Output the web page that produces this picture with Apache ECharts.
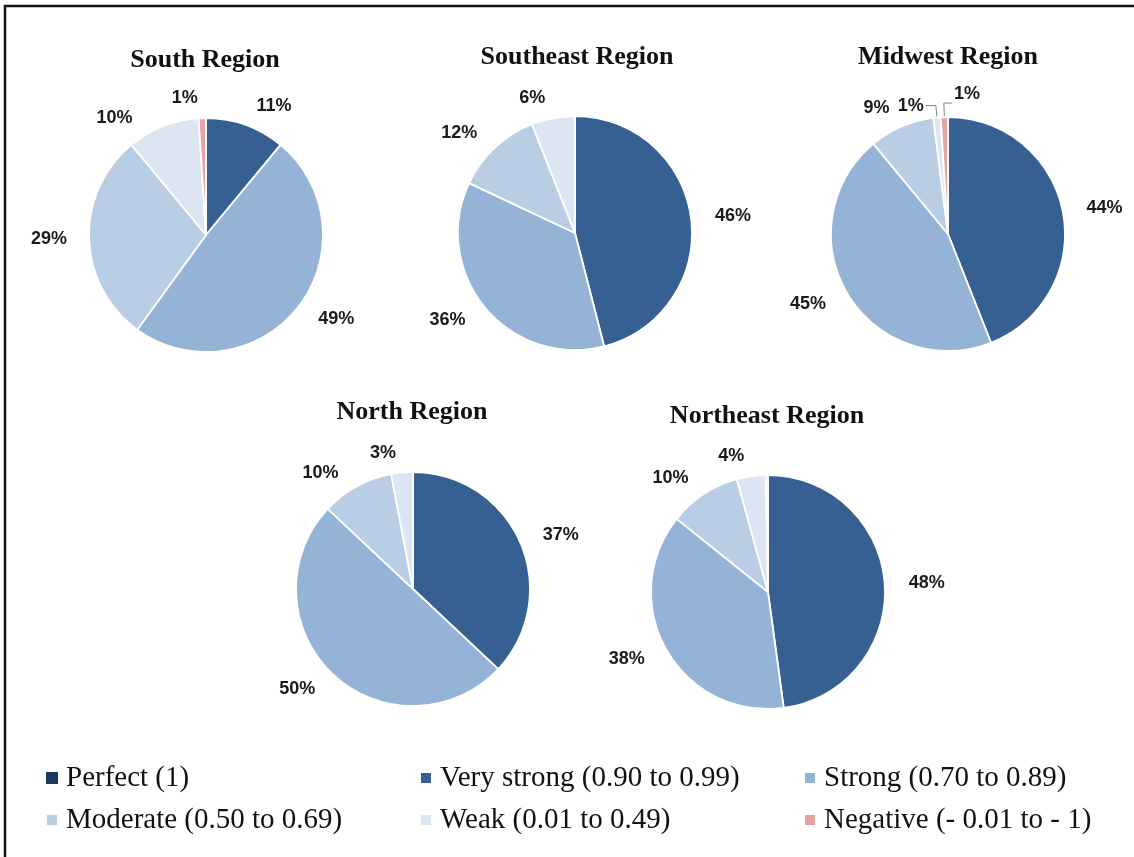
<!DOCTYPE html>
<html>
<head>
<meta charset="utf-8">
<script src="https://cdn.jsdelivr.net/npm/echarts@6/dist/echarts.min.js"></script>
<style>
html,body{margin:0;padding:0;background:#fff;}
#chart{width:1134px;height:857px;}
</style>
</head>
<body>
<div id="chart"></div>
<script>
const categories = ['Perfect (1)', 'Very strong (0.90 to 0.99)', 'Strong (0.70 to 0.89)', 'Moderate (0.50 to 0.69)', 'Weak (0.01 to 0.49)', 'Negative (- 0.01 to - 1)'];
const regionNames = ['South Region', 'Southeast Region', 'Midwest Region', 'North Region', 'Northeast Region'];
const south = [0, 11, 49, 29, 10, 1];
const southeast = [0, 46, 36, 12, 6, 0];
const midwest = [0, 44, 45, 9, 1, 1];
const north = [0, 37, 50, 10, 3, 0];
const northeast = [0, 48, 38, 10, 4, 0.3];
const regionValues = [south, southeast, midwest, north, northeast];

const colors = ['#1F3A60', '#366092', '#95B3D7', '#B9CDE5', '#DCE6F2', '#E6A3A3'];
const centers = [[206, 235], [575, 233], [948, 234], [413, 589], [768, 592]];
const titlePos = [[205, 47], [577, 44], [948, 44], [412, 399], [767, 403]];
const radius = 117;
const leaderRegion = 2;

const chart = echarts.init(document.getElementById('chart'), null, {renderer: 'canvas'});

const series = regionValues.map((vals, ri) => ({
  type: 'pie',
  center: centers[ri],
  radius: radius,
  startAngle: 90,
  clockwise: true,
  silent: true,
  animation: false,
  avoidLabelOverlap: ri !== leaderRegion,
  label: {
    show: true,
    position: 'outside',
    formatter: p => Math.round(p.value) + '%',
    fontFamily: 'Liberation Sans, Arial, sans-serif',
    fontWeight: 'bold',
    fontSize: 18,
    color: '#1a1a1a',
    distanceToLabelLine: 2
  },
  labelLine: {show: false, length: 20, length2: 2},
  labelLayout: ri === leaderRegion ? function (params) {
    // flip the last tiny slice's label to the right of its leader line
    if (params.dataIndex === 5 && params.labelLinePoints) {
      const pts = params.labelLinePoints;
      const p1 = pts[1];
      const p2 = [p1[0] + 8, p1[1]];
      return {
        x: p2[0] + 2,
        y: params.labelRect.y,
        align: 'left',
        labelLinePoints: [pts[0], p1, p2]
      };
    }
    return {};
  } : null,
  itemStyle: {borderColor: '#fff', borderWidth: 1.8},
  data: vals.map((v, i) => {
    const item = {name: categories[i], value: v, itemStyle: {color: colors[i]}};
    if (v < 0.5) {
      item.label = {show: false};
      item.labelLine = {show: false};
      if (v === 0) item.itemStyle.borderWidth = 0;
    } else if (ri === leaderRegion && v <= 1) {
      item.labelLine = {show: true, length: i === 4 ? 12 : 14, length2: i === 4 ? 10 : 8, lineStyle: {color: '#7f7f7f', width: 1}};
    }
    return item;
  })
}));

const titles = regionNames.map((t, i) => ({
  text: t,
  left: titlePos[i][0],
  top: titlePos[i][1],
  textAlign: 'center',
  padding: 0,
  textStyle: {fontFamily: 'Liberation Serif, Times New Roman, serif', fontWeight: 'bold', fontSize: 26, color: '#111'}
}));

const legendCols = [[0, 3], [1, 4], [2, 5]];
const legendLeft = [45, 419, 803];
const legends = legendCols.map((col, k) => ({
  orient: 'vertical',
  left: legendLeft[k],
  top: 762,
  padding: 0,
  itemWidth: 12,
  itemHeight: 12,
  itemGap: 10,
  icon: 'rect',
  selectedMode: false,
  data: col.map(i => categories[i]),
  textStyle: {fontFamily: 'Liberation Serif, Times New Roman, serif', fontSize: 29, color: '#111', lineHeight: 32, padding: [0, 0, 0, 3]}
}));

chart.setOption({
  backgroundColor: '#fff',
  animation: false,
  title: titles,
  legend: legends,
  graphic: [{
    type: 'rect',
    shape: {x: 5, y: 6, width: 1300, height: 1000},
    style: {fill: 'none', stroke: '#111', lineWidth: 2.5},
    silent: true
  }],
  series: series
});
</script>
</body>
</html>
